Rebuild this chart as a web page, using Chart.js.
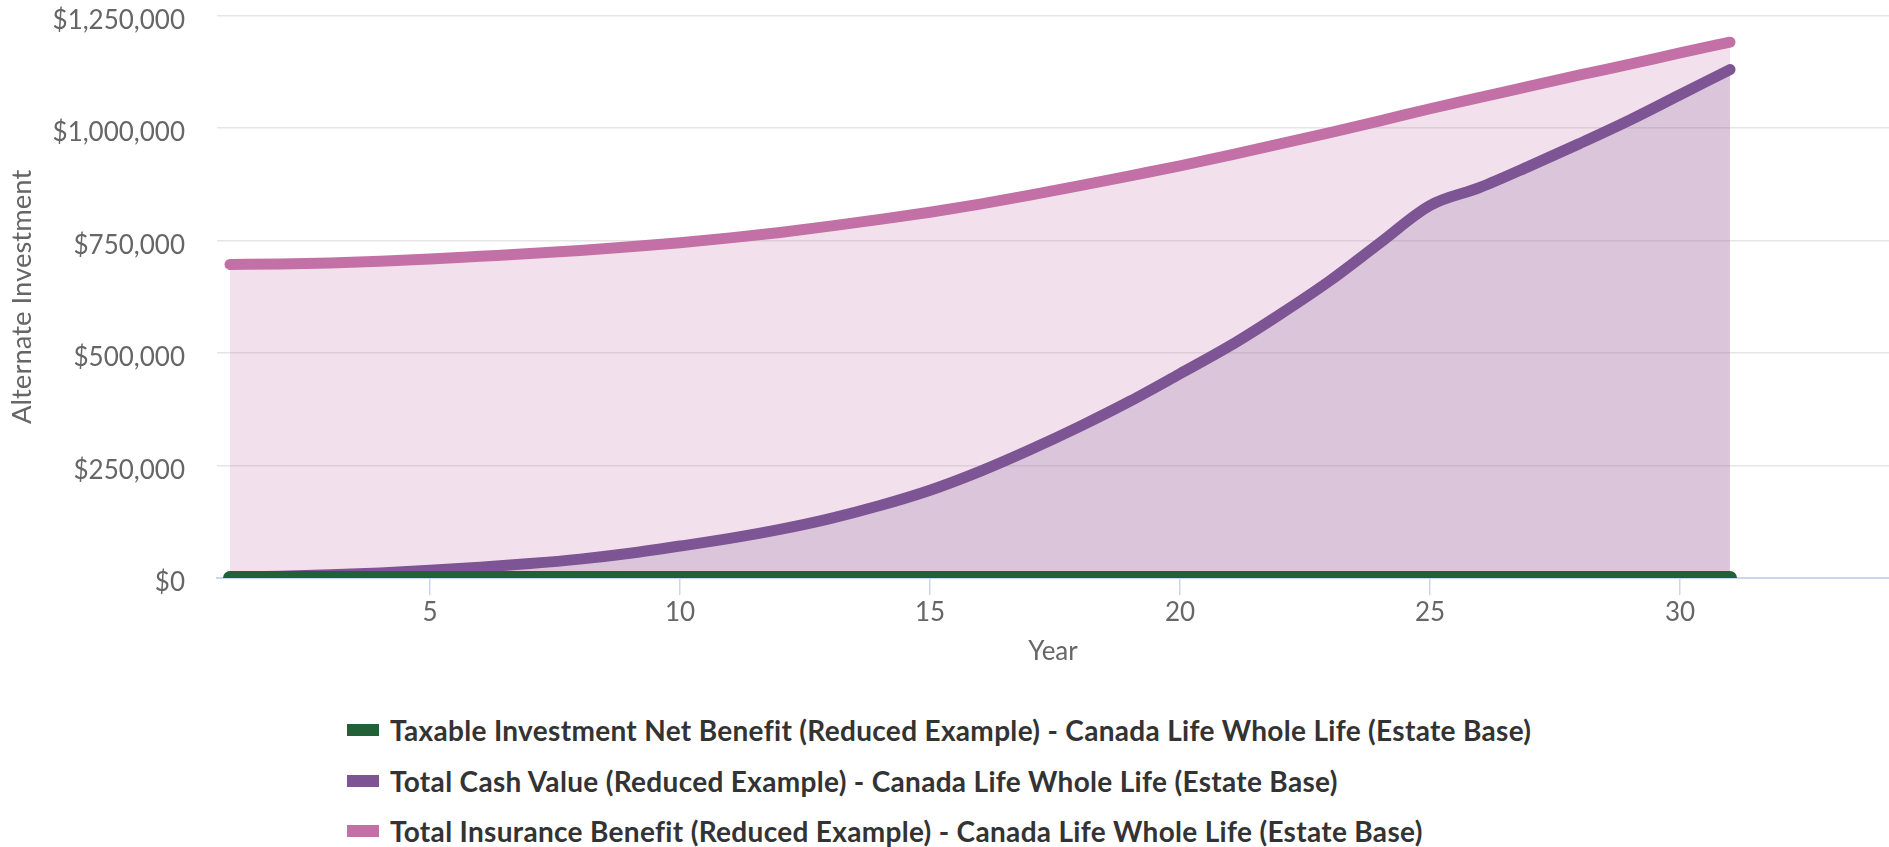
<!DOCTYPE html>
<html>
<head>
<meta charset="utf-8">
<script src="https://cdn.jsdelivr.net/npm/chart.js@4.4.1/dist/chart.umd.min.js"></script>
<style>
  html, body { margin: 0; padding: 0; background: #fff; }
  body { width: 1889px; height: 847px; position: relative; overflow: hidden; font-family: Lato, "Open Sans", sans-serif; }
  #wrap { position: absolute; left: 0; top: 0; width: 1889px; height: 667px; }
  #legend { position: absolute; left: 347px; top: 705px; }
  #legend .item { display: flex; align-items: center; height: 50.5px; }
  #legend .box { width: 32px; height: 12px; margin-right: 11px; flex: none; }
  #legend .txt { font: bold 28px Lato, sans-serif; letter-spacing: 0.32px; color: #333; white-space: nowrap; }
</style>
</head>
<body>
<div id="wrap"><canvas id="grafico" width="1889" height="667"></canvas></div>
<div id="legend"></div>
<script>
const anos = [1, 2, 3, 4, 5, 6, 7, 8, 9, 10, 11, 12, 13, 14, 15, 16, 17, 18, 19, 20, 21, 22, 23, 24, 25, 26, 27, 28, 29, 30, 31];

const investimentoTributavel = [0, 0, 0, 0, 0, 0, 0, 0, 0, 0, 0, 0, 0, 0, 0, 0, 0, 0, 0, 0, 0, 0, 0, 0, 0, 0, 0, 0, 0, 0, 0];

const valorEmDinheiro = [2000, 4000, 7000, 11000, 17000, 24000, 32000, 42000, 55000, 71000,
  88000, 108000, 132000, 161000, 195000, 237000, 285000, 337000, 393000, 454000,
  516000, 586000, 661000, 745000, 828000, 868000, 916000, 966000, 1018000, 1074000, 1130000];

const beneficioSeguro = [697000, 698000, 700000, 704000, 709000, 715000, 721000, 728000, 736000, 745000,
  756000, 768000, 782000, 797000, 813000, 831000, 851000, 872000, 894000, 916000,
  940000, 965000, 990000, 1016000, 1043000, 1068000, 1093000, 1118000, 1142000, 1167000, 1191000];

const ticksX = [5, 10, 15, 20, 25, 30];
const ticksY = [0, 250000, 500000, 750000, 1000000, 1250000];

const nomes = [
  "Taxable Investment Net Benefit (Reduced Example) - Canada Life Whole Life (Estate Base)",
  "Total Cash Value (Reduced Example) - Canada Life Whole Life (Estate Base)",
  "Total Insurance Benefit (Reduced Example) - Canada Life Whole Life (Estate Base)"
];

const fonte = "Lato";

function serie(valores) {
  return valores.map((v, i) => ({ x: anos[i], y: v }));
}

const ctx = document.getElementById("grafico").getContext("2d");
const grafico = new Chart(ctx, {
  type: "line",
  data: {
    datasets: [
      {
        label: nomes[0],
        data: serie(investimentoTributavel),
        borderColor: "#226137",
        backgroundColor: "#226137",
        borderWidth: 14,
        fill: false
      },
      {
        label: nomes[1],
        data: serie(valorEmDinheiro),
        borderColor: "#7d5494",
        backgroundColor: "rgba(125, 84, 148, 0.2)",
        borderWidth: 11,
        fill: "origin"
      },
      {
        label: nomes[2],
        data: serie(beneficioSeguro),
        borderColor: "#c370a6",
        backgroundColor: "rgba(195, 112, 166, 0.21)",
        borderWidth: 11,
        fill: "origin"
      }
    ]
  },
  options: {
    responsive: false,
    devicePixelRatio: 1,
    animation: false,
    layout: { padding: 0 },
    elements: {
      point: { radius: 0, hoverRadius: 0 },
      line: { cubicInterpolationMode: "monotone", borderCapStyle: "round", borderJoinStyle: "round" }
    },
    datasets: { line: { clip: 0 } },
    plugins: {
      legend: { display: false },
      tooltip: { enabled: false }
    },
    scales: {
      x: {
        type: "linear",
        min: 0.74,
        max: 34.18,
        afterBuildTicks: (s) => { s.ticks = ticksX.map(v => ({ value: v })); },
        afterFit: (s) => { s.height = 89; },
        grid: { drawOnChartArea: false, drawTicks: true, tickLength: 17, color: "#ccd6eb", lineWidth: 1.5 },
        border: { display: true, color: "#ccd6eb", width: 2 },
        ticks: { color: "#666666", padding: 2, font: { family: fonte, size: 26 }, maxRotation: 0 },
        title: { display: true, text: "Year", color: "#666666", font: { family: fonte, size: 26 }, padding: { top: 10, bottom: 0 } }
      },
      y: {
        min: 0,
        max: 1250000,
        afterBuildTicks: (s) => { s.ticks = ticksY.map(v => ({ value: v })); },
        afterFit: (s) => { s.width = 217; },
        // marcas invisiveis de 32px no lugar do padding (o padding empurra o topo)
        grid: { color: "#e6e6e6", lineWidth: 1.5, drawTicks: true, tickLength: 32, tickColor: "rgba(0,0,0,0)" },
        border: { display: false },
        ticks: {
          color: "#666666",
          padding: 0,
          labelOffset: 5,
          font: { family: fonte, size: 26 },
          callback: (v) => "$" + Number(v).toLocaleString("en-US")
        },
        title: { display: true, text: "Alternate Investment", color: "#666666", font: { family: fonte, size: 27.5 }, padding: { top: 6, bottom: 10 } }
      }
    }
  }
});

// Legenda em HTML
function montarLegenda() {
  const legenda = document.getElementById("legend");
  legenda.innerHTML = "";
  grafico.data.datasets.forEach(ds => {
    const item = document.createElement("div");
    item.className = "item";
    item.innerHTML = `<span class="box" style="background:${ds.borderColor}"></span><span class="txt">${ds.label}</span>`;
    legenda.appendChild(item);
  });
}
montarLegenda();
</script>
</body>
</html>
